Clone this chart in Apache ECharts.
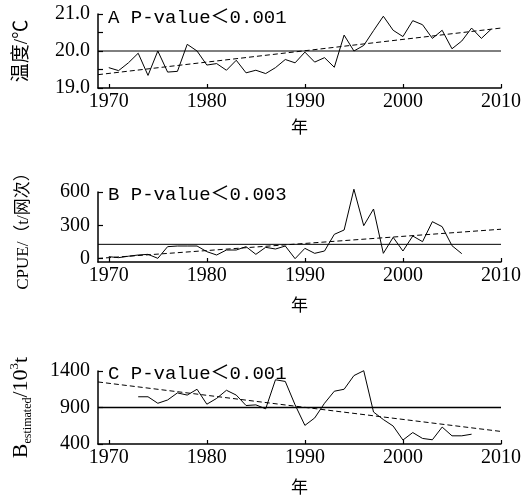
<!DOCTYPE html>
<html>
<head>
<meta charset="utf-8">
<script src="https://cdn.jsdelivr.net/npm/echarts@6/dist/echarts.min.js"></script>
<style>
html,body{margin:0;padding:0;background:#fff;}
#c{width:524px;height:502px;}
</style>
</head>
<body>
<div id="c"></div>
<script>
// ---- data ----
const yearsA = [1970,1971,1972,1973,1974,1975,1976,1977,1978,1979,1980,1981,1982,1983,1984,1985,1986,1987,1988,1989,1990,1991,1992,1993,1994,1995,1996,1997,1998,1999,2000,2001,2002,2003,2004,2005,2006,2007,2008,2009];
const tempA = [19.55,19.47,19.68,19.94,19.34,20.0,19.43,19.45,20.18,20.0,19.62,19.66,19.48,19.75,19.41,19.48,19.39,19.55,19.77,19.68,19.97,19.70,19.82,19.56,20.43,20.0,20.15,20.55,20.94,20.56,20.39,20.82,20.71,20.34,20.56,20.06,20.27,20.62,20.34,20.59];
const meanA = 20.0;
const trendA = [[1968.9, 19.36], [2010, 20.62]];

const yearsB = [1970,1971,1972,1973,1974,1975,1976,1977,1978,1979,1980,1981,1982,1983,1984,1985,1986,1987,1988,1989,1990,1991,1992,1993,1994,1995,1996,1997,1998,1999,2000,2001,2002,2003,2004,2005,2006];
const cpueB = [18,9,22,33,39,3,108,114,114,114,63,33,78,78,108,39,102,87,114,0,93,48,69,219,258,625,297,447,48,192,69,204,153,333,288,117,45];
const meanB = 129;
const trendB = [[1968.9, 2], [2010, 265]];

const yearsC = [1973,1974,1975,1976,1977,1978,1979,1980,1981,1982,1983,1984,1985,1986,1987,1988,1989,1990,1991,1992,1993,1994,1995,1996,1997,1998,1999,2000,2001,2002,2003,2004,2005,2006,2007];
const bioC = [1047,1047,958,1003,1100,1070,1150,945,1025,1136,1070,927,936,882,1280,1257,936,655,757,958,1123,1150,1337,1404,838,735,646,454,557,476,458,632,512,512,534];
const meanC = 900;
const trendC = [[1968.9, 1250], [2010, 572]];

const xTicks = [1970, 1980, 1990, 2000, 2010];
const yTicksA = [19.0, 20.0, 21.0];
const yTicksB = [0, 300, 600];
const yTicksC = [400, 900, 1400];
const panelTexts = ['A P-value＜0.001', 'B P-value＜0.003', 'C P-value＜0.001'];
const xName = '年';

// ---- layout ----
const X_MIN = 1968.9, X_MAX = 2010;
const grids = [
  {left: 98, right: 21, top: 14, height: 74},
  {left: 98, right: 21, top: 192, height: 70},
  {left: 98, right: 21, top: 371, height: 73}
];
const serif = 'Liberation Serif';
const cjk = '"Liberation Serif","Noto Sans CJK SC"';
const axisLineStyle = {color: '#000', width: 1.5};

function xAxis(i, gap) {
  return {
    type: 'value', gridIndex: i, min: X_MIN, max: X_MAX,
    name: xName, nameLocation: 'middle', nameGap: gap,
    nameTextStyle: {fontFamily: '"Noto Sans CJK SC"', fontSize: 17, color: '#000'},
    axisLine: {show: true, onZero: false, lineStyle: axisLineStyle},
    axisTick: {show: true, inside: true, length: 4, lineStyle: {color: '#000', width: 1.2}, customValues: xTicks},
    axisLabel: {color: '#000', fontFamily: serif, fontSize: 20, margin: 4, customValues: xTicks,
      formatter: v => String(Math.round(v))},
    splitLine: {show: false}
  };
}

const options = {
  animation: false,
  backgroundColor: '#fff',
  grid: grids,
  xAxis: [xAxis(0, 30), xAxis(1, 34), xAxis(2, 34)],
  yAxis: [
    {
      type: 'value', gridIndex: 0, min: 19, max: 21, interval: 0.5,
      name: '温度/℃', nameLocation: 'middle', nameRotate: 90, nameGap: 66,
      nameTextStyle: {fontFamily: cjk, fontSize: 19, color: '#000'},
      axisLine: {show: true, lineStyle: axisLineStyle},
      axisTick: {show: true, inside: true, length: 5, lineStyle: {color: '#000', width: 1.2}},
      axisLabel: {color: '#000', fontFamily: serif, fontSize: 20, margin: 8,
        formatter: v => (yTicksA.some(t => Math.abs(t - v) < 1e-6) ? v.toFixed(1) : '')},
      splitLine: {show: false}
    },
    {
      type: 'value', gridIndex: 1, min: -30, max: 600,
      name: 'CPUE/（t/网次）', nameLocation: 'middle', nameRotate: 90, nameGap: 66,
      nameTextStyle: {fontFamily: cjk, fontSize: 17, color: '#000'},
      axisLine: {show: true, lineStyle: axisLineStyle},
      axisTick: {show: true, inside: true, length: 5, lineStyle: {color: '#000', width: 1.2}, customValues: yTicksB},
      axisLabel: {color: '#000', fontFamily: serif, fontSize: 20, margin: 8, customValues: yTicksB,
        formatter: v => String(Math.round(v))},
      splitLine: {show: false}
    },
    {
      type: 'value', gridIndex: 2, min: 400, max: 1400, interval: 500,
      name: '{b|B}{sub|estimated}{n|/10}{sup|3}{n|t}', nameLocation: 'middle', nameRotate: 90, nameGap: 66,
      nameTextStyle: {
        color: '#000',
        rich: {
          b: {fontFamily: serif, fontSize: 22, color: '#000'},
          n: {fontFamily: serif, fontSize: 22, color: '#000'},
          sub: {fontFamily: serif, fontSize: 12, color: '#000', verticalAlign: 'bottom', padding: [0,0,-2,0]},
          sup: {fontFamily: serif, fontSize: 13, color: '#000', verticalAlign: 'top', padding: [-2,0,0,0]}
        }
      },
      axisLine: {show: true, lineStyle: axisLineStyle},
      axisTick: {show: true, inside: true, length: 5, lineStyle: {color: '#000', width: 1.2}},
      axisLabel: {color: '#000', fontFamily: serif, fontSize: 20, margin: 8,
        formatter: v => String(Math.round(v))},
      splitLine: {show: false}
    }
  ],
  graphic: panelTexts.map((t, i) => ({
    type: 'text', left: 108, top: [8, 185, 364][i],
    style: {text: t, fontFamily: '"Liberation Mono","Noto Sans CJK SC"', fontSize: 19, fill: '#000'}
  })),
  series: []
};

function addPanel(i, years, vals, mean, trend, meanW) {
  options.series.push({
    type: 'line', xAxisIndex: i, yAxisIndex: i, clip: false, symbol: 'none',
    lineStyle: {color: '#000', width: 1},
    data: years.map((y, k) => [y, vals[k]])
  });
  options.series.push({
    type: 'line', xAxisIndex: i, yAxisIndex: i, symbol: 'none',
    lineStyle: {color: '#000', width: meanW},
    data: [[X_MIN, mean], [X_MAX, mean]]
  });
  options.series.push({
    type: 'line', xAxisIndex: i, yAxisIndex: i, symbol: 'none',
    lineStyle: {color: '#000', width: 1, type: [5, 3]},
    data: trend
  });
}
addPanel(0, yearsA, tempA, meanA, trendA, 1);
addPanel(1, yearsB, cpueB, meanB, trendB, 1);
addPanel(2, yearsC, bioC, meanC, trendC, 1.5);

const chart = echarts.init(document.getElementById('c'));
chart.setOption(options);
</script>
</body>
</html>
